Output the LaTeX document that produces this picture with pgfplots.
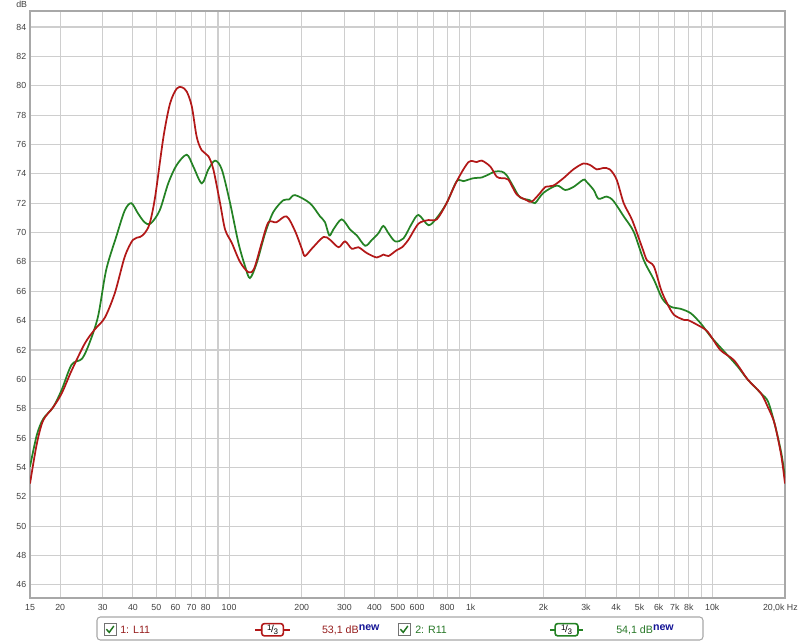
\documentclass[border=0pt]{standalone}
\usepackage{fontspec}
\setmainfont{Liberation Sans}
\usepackage{pgfplots}
\pgfplotsset{compat=1.18}
\definecolor{cred}{RGB}{178,24,24}
\definecolor{cgreen}{RGB}{36,130,36}
\definecolor{tred}{RGB}{150,30,30}
\definecolor{tgreen}{RGB}{40,120,40}
\definecolor{frame}{RGB}{168,168,168}
\definecolor{gridc}{RGB}{206,206,206}
\definecolor{newblue}{RGB}{20,20,150}

\pgfplotstableread{
f db
15 52.9
16 55.6
17 57.2
18.7 58.1
20.3 59.05
22.3 60.6
25.3 62.45
27.8 63.4
30.6 64.2
33.7 65.9
37 68.35
40 69.5
42.8 69.7
44.7 69.95
46.9 70.6
49.4 72.4
53.5 76.5
57 78.8
60.7 79.8
63.7 79.9
66.8 79.6
70.1 78.6
73.5 76.5
77.1 75.6
82.1 75.2
86.1 74.3
91.8 72.0
96.3 70.2
102.6 69.3
111 68.0
120.2 67.3
127 67.55
136.5 69.3
145.5 70.7
157 70.7
173 71.1
187.6 70.1
200 68.9
206 68.4
220 68.9
246 69.7
262 69.5
284 69.0
302 69.4
322 68.9
343 69.0
372 68.6
409 68.3
435 68.5
457 68.4
494 68.8
520 69.0
552 69.5
608 70.6
669 70.85
724 70.9
795 72.0
876 73.5
980 74.8
1060 74.8
1112 74.9
1205 74.5
1282 73.8
1345 73.7
1433 73.6
1550 72.6
1706 72.2
1790 72.1
1940 72.7
2035 73.1
2200 73.2
2420 73.7
2660 74.3
2925 74.7
3120 74.6
3330 74.3
3540 74.4
3770 74.3
4020 73.6
4300 72.0
4660 70.85
5120 69.0
5370 68.1
5730 67.7
6140 66.1
6490 65.2
6940 64.4
7640 64.05
7900 64.05
8700 63.7
9560 63.25
10800 62.0
12300 61.3
14000 60.0
15900 59.05
17000 58.1
18100 57.0
19300 54.8
20000 52.9
}\leftdata

\pgfplotstableread{
f db
15 54.05
16 56.2
17 57.3
18.7 58.1
20.3 59.3
22.3 61.0
24.6 61.4
26.4 62.45
28.7 64.3
31 67.45
34.1 69.7
37 71.5
39.4 72.0
42 71.3
44.7 70.7
47.3 70.6
51.6 71.5
56 73.35
60.7 74.6
66.8 75.3
71.1 74.5
77.1 73.35
82.1 74.3
87.5 74.9
93.3 74.3
101 72.0
109.3 69.3
116.5 67.7
122 66.9
130 67.9
141 69.95
152.5 71.4
167.7 72.2
177 72.25
187.6 72.55
216 72.0
238 71.1
249.5 70.7
260 69.8
270 70.2
292.5 70.9
317 70.2
338 69.8
366 69.1
390 69.5
415 69.95
435 70.45
457 69.95
487 69.4
527 69.6
570 70.6
608 71.2
669 70.5
724 71.0
795 72.0
876 73.5
934 73.5
1025 73.7
1112 73.75
1168 73.9
1260 74.15
1345 74.15
1410 73.9
1505 73.1
1600 72.4
1760 72.2
1845 72.0
2000 72.7
2270 73.2
2460 72.9
2660 73.1
2925 73.6
3000 73.5
3230 72.9
3380 72.3
3660 72.45
3900 72.15
4300 71.1
4730 70.05
5210 68.1
5730 66.8
6210 65.5
6730 64.95
7410 64.8
8150 64.5
8970 63.8
9870 62.9
11200 61.9
12700 60.9
14000 60.0
15900 59.05
17000 58.5
18100 57.0
19300 55.0
20000 53.3
}\rightdata

\begin{document}
\begin{tikzpicture}
\path[use as bounding box] (0pt,0pt) rectangle (600pt,481.5pt);
\begin{axis}[
  at={(22.5pt,33pt)}, anchor=south west,
  scale only axis, width=566.25pt, height=440.25pt,
  xmode=log, log basis x=10,
  xmin=15, xmax=20000, ymin=45.11, ymax=85.09,
  ytick={46,48,...,84},
  xtick={15,20,30,40,50,60,70,80,100,200,300,400,500,600,800,1000,2000,3000,4000,5000,6000,7000,8000,10000},
  xticklabels={15,20,30,40,50,60,70,80,100,200,300,400,500,600,800,1k,2k,3k,4k,5k,6k,7k,8k,10k},
  minor xtick={90,700,900,9000},
  grid=both,
  major grid style={draw=gridc, line width=0.8pt},
  minor grid style={draw=gridc, line width=0.8pt},
  major tick length=0pt, minor tick length=0pt,
  axis line style={draw=frame, line width=1.6pt},
  /pgf/number format/assume math mode=true,
  ticklabel style={font=\fontsize{6.6}{7.5}\selectfont, text=black!75},
  yticklabel style={anchor=east, inner sep=0pt, xshift=-2.6pt},
  xticklabel style={anchor=north, inner sep=0pt, yshift=-4.6pt},
  clip=true,
]
\addplot[cgreen, line width=1.3pt, smooth, tension=0.5] table[x=f, y=db] {\rightdata};
\addplot[cred, line width=1.3pt, smooth, tension=0.5] table[x=f, y=db] {\leftdata};
\end{axis}
% axis annotations
\node[anchor=east, inner sep=0pt, font=\fontsize{6.6}{7.5}\selectfont, text=black!75] at (20.5pt,478pt) {dB};
\node[anchor=east, inner sep=0pt, font=\fontsize{6.6}{7.5}\selectfont, text=black!75] at (598.5pt,25.6pt) {20,0k Hz};
% legend box
\draw[frame, line width=0.8pt, fill=white, rounded corners=2.5pt] (72.75pt,1.5pt) rectangle (527.25pt,18.75pt);
% entry 1
\draw[black!55, fill=white, line width=0.6pt] (78pt,5.2pt) rectangle (87pt,13.6pt);
\draw[cgreen!90!black, line width=1.1pt] (79.8pt,9.6pt) -- (81.9pt,7.2pt) -- (85.4pt,12pt);
\node[anchor=west, inner sep=0pt, font=\fontsize{8}{9}\selectfont, text=tred] at (90pt,9.2pt) {1: L11};
\draw[cred, line width=1.2pt] (191.25pt,9.2pt) -- (217.5pt,9.2pt);
\draw[cred, line width=1.2pt, fill=white, rounded corners=2pt] (196.3pt,4.6pt) rectangle (212.5pt,13.8pt);
\node[inner sep=0pt, font=\fontsize{7.5}{8}\selectfont, text=black] at (204.4pt,9.2pt) {\raisebox{1.2pt}{\fontsize{6}{6}\selectfont 1}\kern-0.3pt/\kern-0.3pt\raisebox{-1.5pt}{\fontsize{6}{6}\selectfont 3}};
\node[anchor=west, inner sep=0pt, font=\fontsize{8}{9}\selectfont, text=tred] at (241.3pt,9.2pt) {53,1 dB\raisebox{2.2pt}{\textcolor{newblue}{\bfseries new}}};
% entry 2
\draw[black!55, fill=white, line width=0.6pt] (298.5pt,5.2pt) rectangle (307.5pt,13.6pt);
\draw[cgreen!90!black, line width=1.1pt] (300.3pt,9.6pt) -- (302.4pt,7.2pt) -- (305.9pt,12pt);
\node[anchor=west, inner sep=0pt, font=\fontsize{8}{9}\selectfont, text=tgreen] at (311.25pt,9.2pt) {2: R11};
\draw[cgreen, line width=1.2pt] (412.5pt,9.2pt) -- (437.25pt,9.2pt);
\draw[cgreen, line width=1.2pt, fill=white, rounded corners=2pt] (416.3pt,4.6pt) rectangle (433.5pt,13.8pt);
\node[inner sep=0pt, font=\fontsize{7.5}{8}\selectfont, text=black] at (424.9pt,9.2pt) {\raisebox{1.2pt}{\fontsize{6}{6}\selectfont 1}\kern-0.3pt/\kern-0.3pt\raisebox{-1.5pt}{\fontsize{6}{6}\selectfont 3}};
\node[anchor=west, inner sep=0pt, font=\fontsize{8}{9}\selectfont, text=tgreen] at (462pt,9.2pt) {54,1 dB\raisebox{2.2pt}{\textcolor{newblue}{\bfseries new}}};
\end{tikzpicture}
\end{document}
